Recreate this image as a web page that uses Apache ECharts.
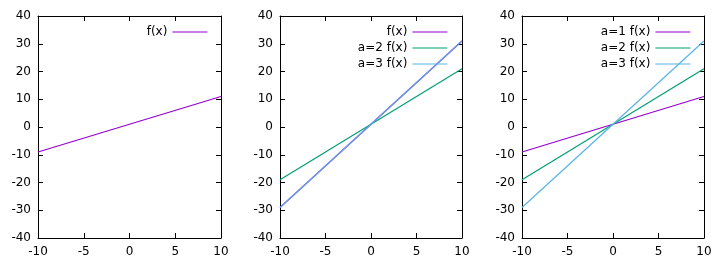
<!DOCTYPE html>
<html>
<head>
<meta charset="utf-8">
<script src="https://cdn.jsdelivr.net/npm/echarts@6/dist/echarts.min.js"></script>
<style>html,body{margin:0;padding:0;background:#fff}#c{width:726px;height:271px}</style>
</head>
<body>
<div id="c"></div>
<script>
// Data
const xEnds = [-10, 10];
const fA1 = [-9, 11];   // a=1: f(x)=x+1
const fA2 = [-19, 21];  // a=2
const fA3 = [-29, 31];  // a=3
const xTicks = [-10, -5, 0, 5, 10];
const yTicks = [-40, -30, -20, -10, 0, 10, 20, 30, 40];

const COL_P = '#9400d3', COL_G = '#009e73', COL_B = '#56b4e9';
const FONT = 'DejaVu Sans';
const FS = 12;

function pts(ys) { return xEnds.map((x, i) => [x, ys[i]]); }

const grids = [
  {left: 38, top: 16, width: 183, height: 222},
  {left: 280, top: 16, width: 182, height: 222},
  {left: 522, top: 16, width: 182, height: 222}
].map(g => Object.assign({show: false}, g));

const xAxes = [], yAxes = [];
grids.forEach((g, i) => {
  const common = {
    type: 'value', gridIndex: i,
    axisLine: {show: true, onZero: false, lineStyle: {color: '#000', width: 1}},
    axisTick: {show: true, inside: true, length: 5, lineStyle: {color: '#000'}},
    splitLine: {show: false}
  };
  xAxes.push(Object.assign({}, common, {
    position: 'bottom', min: xTicks[0], max: xTicks[xTicks.length - 1], interval: 5,
    axisLabel: {color: '#000', fontFamily: FONT, fontSize: FS, margin: 8, showMinLabel: true, showMaxLabel: true}
  }));
  xAxes.push(Object.assign({}, common, {
    position: 'top', min: xTicks[0], max: xTicks[xTicks.length - 1], interval: 5,
    axisLabel: {show: false}
  }));
  yAxes.push(Object.assign({}, common, {
    position: 'left', min: yTicks[0], max: yTicks[yTicks.length - 1], interval: 10,
    axisLabel: {color: '#000', fontFamily: FONT, fontSize: FS, margin: 7, showMinLabel: true, showMaxLabel: true}
  }));
  yAxes.push(Object.assign({}, common, {
    position: 'right', min: yTicks[0], max: yTicks[yTicks.length - 1], interval: 10,
    axisLabel: {show: false}
  }));
});

function line(name, ys, color, gi, opacity) {
  return {
    type: 'line', name: name, data: pts(ys), xAxisIndex: gi * 2, yAxisIndex: gi * 2,
    symbol: 'none', animation: false, silent: true,
    lineStyle: {color: color, width: 1.2, opacity: opacity == null ? 1 : opacity},
    itemStyle: {color: color}
  };
}

const series = [
  line('f(x)', fA1, COL_P, 0),
  line('f(x) ', fA3, COL_P, 1),
  line('a=2 f(x)', fA2, COL_G, 1),
  line('a=3 f(x)', fA3, COL_B, 1, 0.9),
  line('a=1 f(x)', fA1, COL_P, 2),
  line('a=2 f(x) ', fA2, COL_G, 2),
  line('a=3 f(x) ', fA3, COL_B, 2)
];

function legend(names, right) {
  return {
    show: true, orient: 'vertical', align: 'right', right: right, top: 26,
    itemWidth: 35, itemHeight: 12, itemGap: 4, padding: 0, selectedMode: false,
    textStyle: {color: '#000', fontFamily: FONT, fontSize: FS},
    data: names.map(n => ({name: n, itemStyle: {opacity: 0}, lineStyle: {width: 1.2, opacity: 1}})),
    formatter: n => n.trim()
  };
}

const chart = echarts.init(document.getElementById('c'), null, {renderer: 'canvas'});
chart.setOption({
  animation: false,
  grid: grids,
  xAxis: xAxes,
  yAxis: yAxes,
  legend: [
    legend(['f(x)'], 518),
    legend(['f(x) ', 'a=2 f(x)', 'a=3 f(x)'], 278),
    legend(['a=1 f(x)', 'a=2 f(x) ', 'a=3 f(x) '], 35)
  ],
  series: series
});
</script>
</body>
</html>
